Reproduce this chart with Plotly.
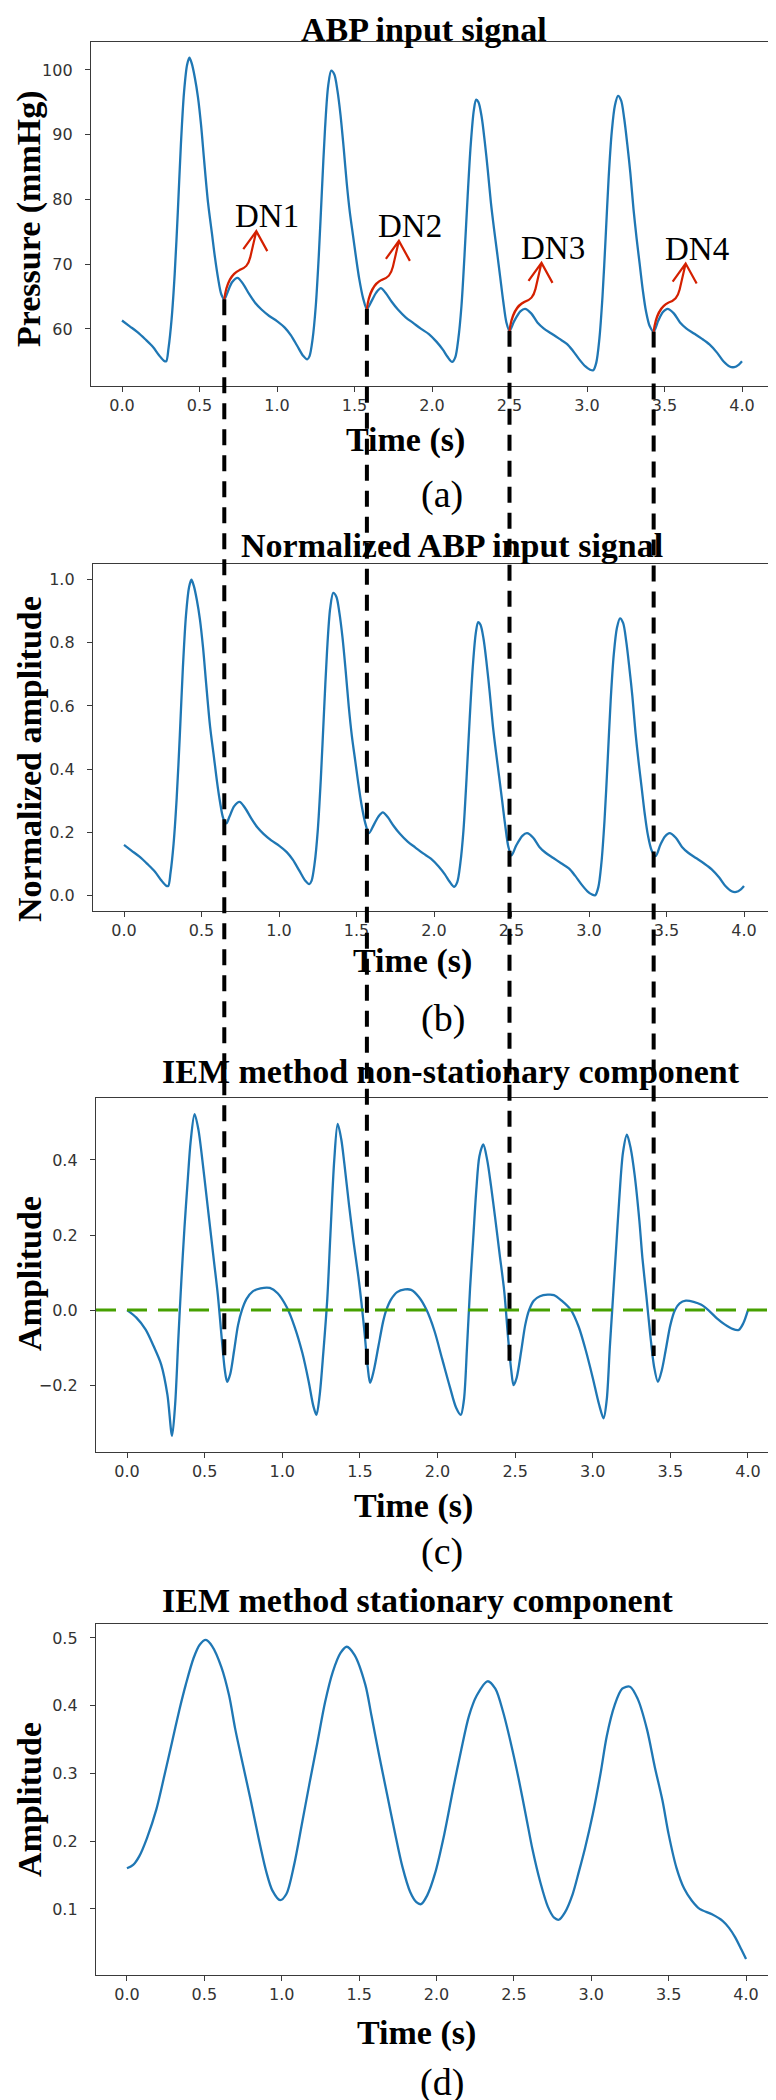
import plotly.graph_objects as go

# ------------------------------------------------------------------ data
t_abp = [0.00, 0.05, 0.10, 0.15, 0.20, 0.24, 0.27, 0.285, 0.30, 0.32, 0.34, 0.36, 0.38, 0.40, 0.42, 0.435,
         0.45, 0.47, 0.49, 0.51, 0.53, 0.555, 0.58, 0.60, 0.62, 0.64, 0.66, 0.68, 0.71, 0.745, 0.78, 0.82,
         0.86, 0.90, 0.95, 1.00, 1.05, 1.09, 1.13, 1.17, 1.195, 1.21, 1.23, 1.25, 1.27, 1.29, 1.31, 1.33,
         1.35, 1.37, 1.39, 1.41, 1.43, 1.45, 1.47, 1.49, 1.51, 1.53, 1.555, 1.58, 1.61, 1.64, 1.67, 1.70,
         1.74, 1.78, 1.83, 1.88, 1.93, 1.98, 2.03, 2.07, 2.10, 2.13, 2.15, 2.17, 2.19, 2.21, 2.23, 2.25,
         2.27, 2.285, 2.30, 2.32, 2.34, 2.36, 2.38, 2.40, 2.42, 2.44, 2.46, 2.48, 2.50, 2.53, 2.57, 2.60,
         2.64, 2.68, 2.72, 2.77, 2.82, 2.87, 2.91, 2.95, 2.99, 3.02, 3.04, 3.06, 3.08, 3.10, 3.12, 3.14,
         3.16, 3.18, 3.20, 3.22, 3.24, 3.26, 3.28, 3.30, 3.32, 3.34, 3.36, 3.38, 3.405, 3.43, 3.46, 3.49,
         3.52, 3.56, 3.60, 3.64, 3.69, 3.74, 3.79, 3.84, 3.88, 3.92, 3.95, 3.98, 4.00]
abp = [61.3, 60.4, 59.5, 58.4, 57.2, 55.9, 55.1, 55.0, 57.0, 61.5, 68.5, 78.0, 88.5, 96.5, 100.8, 101.9,
       101.0, 98.8, 95.8, 91.5, 86.0, 79.5, 74.8, 71.0, 67.8, 65.4, 64.6, 65.6, 67.2, 67.9, 67.0, 65.4,
       64.0, 63.0, 62.0, 61.2, 60.2, 59.0, 57.4, 55.8, 55.3, 55.8, 58.5, 63.5, 71.5, 81.5, 91.0, 97.5,
       99.9, 99.3, 96.8, 93.0, 88.0, 82.5, 78.0, 74.5, 71.0, 67.8, 64.8, 63.1, 64.3, 65.6, 66.3, 65.6,
       64.2, 63.0, 61.8, 60.9, 60.0, 59.2, 58.0, 56.8, 55.7, 54.9, 55.6, 58.5, 63.5, 71.5, 80.5, 88.5,
       93.8, 95.4, 95.0, 92.8, 89.0, 84.5, 79.5, 75.5, 71.8, 68.0, 64.2, 61.0, 59.7, 61.2, 62.7, 63.1,
       62.4, 61.0, 60.1, 59.3, 58.5, 57.7, 56.6, 55.3, 54.2, 53.7, 53.6, 54.8, 58.5, 65.0, 74.0, 83.5,
       90.5, 94.5, 96.0, 95.3, 92.5, 88.5, 84.0, 78.5, 74.0, 70.0, 66.0, 62.8, 60.4, 59.6, 61.3, 62.6,
       63.1, 62.4, 61.0, 60.1, 59.3, 58.5, 57.6, 56.3, 55.0, 54.2, 54.1, 54.5, 55.0]

t_nonstat = [0.00, 0.06, 0.12, 0.17, 0.22, 0.26, 0.29, 0.31, 0.33, 0.35, 0.37, 0.39, 0.41, 0.435, 0.46,
             0.485, 0.51, 0.535, 0.56, 0.585, 0.61, 0.63, 0.645, 0.665, 0.69, 0.715, 0.74, 0.77, 0.81,
             0.86, 0.92, 0.97, 1.03, 1.08, 1.13, 1.17, 1.20, 1.22, 1.24, 1.265, 1.29, 1.31, 1.335, 1.357,
             1.38, 1.40, 1.43, 1.46, 1.49, 1.51, 1.53, 1.55, 1.566, 1.59, 1.62, 1.65, 1.67, 1.70, 1.74,
             1.79, 1.83, 1.88, 1.93, 1.98, 2.03, 2.08, 2.12, 2.15, 2.17, 2.19, 2.21, 2.23, 2.25, 2.27,
             2.295, 2.32, 2.345, 2.37, 2.40, 2.43, 2.455, 2.475, 2.49, 2.51, 2.54, 2.565, 2.59, 2.62,
             2.66, 2.71, 2.75, 2.80, 2.86, 2.91, 2.955, 3.00, 3.04, 3.07, 3.09, 3.11, 3.13, 3.15, 3.17,
             3.195, 3.22, 3.245, 3.27, 3.30, 3.32, 3.345, 3.37, 3.395, 3.42, 3.445, 3.47, 3.50, 3.53,
             3.56, 3.60, 3.65, 3.70, 3.75, 3.80, 3.85, 3.90, 3.94, 3.97, 4.00]
nonstat = [0.000, -0.020, -0.052, -0.095, -0.145, -0.225, -0.335, -0.250, -0.080, 0.080, 0.220, 0.340,
           0.450, 0.522, 0.480, 0.400, 0.310, 0.220, 0.130, 0.040, -0.075, -0.160, -0.191, -0.170,
           -0.107, -0.040, 0.000, 0.030, 0.050, 0.058, 0.059, 0.045, 0.007, -0.045, -0.115, -0.190,
           -0.255, -0.279, -0.230, -0.110, 0.030, 0.200, 0.400, 0.496, 0.455, 0.390, 0.280, 0.180,
           0.090, 0.020, -0.060, -0.150, -0.194, -0.160, -0.095, -0.030, 0.000, 0.028, 0.048, 0.055,
           0.054, 0.035, 0.000, -0.055, -0.130, -0.205, -0.260, -0.279, -0.240, -0.100, 0.060, 0.190,
           0.320, 0.410, 0.441, 0.400, 0.330, 0.250, 0.150, 0.050, -0.075, -0.160, -0.200, -0.180,
           -0.107, -0.040, 0.000, 0.025, 0.037, 0.041, 0.040, 0.025, 0.000, -0.045, -0.107, -0.180,
           -0.250, -0.288, -0.240, -0.100, 0.030, 0.160, 0.290, 0.420, 0.467, 0.430, 0.360, 0.240,
           0.139, 0.040, -0.063, -0.150, -0.191, -0.160, -0.107, -0.040, 0.000, 0.018, 0.025, 0.022,
           0.014, -0.002, -0.022, -0.038, -0.050, -0.053, -0.035, 0.000]

t_stat = [0.00, 0.04, 0.08, 0.13, 0.19, 0.24, 0.29, 0.34, 0.38, 0.43, 0.47, 0.51, 0.55, 0.61, 0.66, 0.70,
          0.75, 0.80, 0.85, 0.90, 0.94, 0.99, 1.03, 1.08, 1.13, 1.18, 1.23, 1.28, 1.33, 1.38, 1.42, 1.47,
          1.54, 1.58, 1.63, 1.68, 1.73, 1.78, 1.83, 1.87, 1.90, 1.94, 1.99, 2.05, 2.11, 2.16, 2.21, 2.26,
          2.33, 2.38, 2.43, 2.48, 2.53, 2.58, 2.62, 2.67, 2.72, 2.76, 2.79, 2.83, 2.88, 2.92, 2.96, 3.01,
          3.06, 3.10, 3.15, 3.20, 3.25, 3.30, 3.36, 3.41, 3.46, 3.50, 3.55, 3.60, 3.65, 3.70, 3.78, 3.85,
          3.89, 3.93, 3.97, 4.00]
stat = [0.160, 0.165, 0.178, 0.205, 0.247, 0.295, 0.345, 0.395, 0.431, 0.470, 0.490, 0.497, 0.488, 0.457,
        0.415, 0.365, 0.312, 0.260, 0.205, 0.155, 0.127, 0.113, 0.122, 0.165, 0.225, 0.286, 0.345, 0.405,
        0.450, 0.478, 0.487, 0.475, 0.431, 0.385, 0.326, 0.270, 0.214, 0.162, 0.125, 0.110, 0.107, 0.120,
        0.152, 0.210, 0.280, 0.335, 0.385, 0.415, 0.436, 0.425, 0.391, 0.345, 0.293, 0.235, 0.188, 0.140,
        0.103, 0.087, 0.084, 0.095, 0.122, 0.155, 0.190, 0.240, 0.300, 0.355, 0.400, 0.425, 0.428, 0.410,
        0.365, 0.310, 0.260, 0.210, 0.161, 0.130, 0.112, 0.100, 0.092, 0.082, 0.072, 0.058, 0.040, 0.026]

dn_labels = ["DN1", "DN2", "DN3", "DN4"]
dn_times = [0.66, 1.58, 2.50, 3.43]
dn_abp = [64.6, 63.1, 59.7, 59.6]
dn_nonstat_end = [-0.145, -0.148, -0.160, -0.122]
zero_level = 0.0

x_ticks = [0.0, 0.5, 1.0, 1.5, 2.0, 2.5, 3.0, 3.5, 4.0]
a_ticks = [60, 70, 80, 90, 100]
b_ticks = [0.0, 0.2, 0.4, 0.6, 0.8, 1.0]
c_ticks = [-0.2, 0.0, 0.2, 0.4]
d_ticks = [0.1, 0.2, 0.3, 0.4, 0.5]

titles = ["ABP input signal", "Normalized ABP input signal",
          "IEM method non-stationary component", "IEM method stationary component"]
y_titles = ["Pressure (mmHg)", "Normalized amplitude", "Amplitude", "Amplitude"]
x_title = "Time (s)"
panel_tags = ["(a)", "(b)", "(c)", "(d)"]

# normalized signal (definition of panel b)
abp_min, abp_max = min(abp), max(abp)
abp_norm = [(v - abp_min) / (abp_max - abp_min) for v in abp]

# ------------------------------------------------------------------ layout helpers
W, H = 776, 2100
SERIF = "Liberation Serif, Times New Roman, serif"
SANS = "DejaVu Sans, sans-serif"
BLUE = "#1f77b4"

# plot boxes in pixels: (left, right, top, bottom)
boxes = [(83, 765, 34, 378), (85, 767, 556, 903), (88, 771, 1090, 1444), (88, 769, 1616, 1967)]
title_pos = [(416, 21), (444, 537), (443, 1063), (410, 1592)]
ytitle_pos = [(21, 211), (21, 751), (21, 1266), (21, 1792)]
xtitle_pos = [(398, 432), (404, 953), (405, 1498), (408, 2025)]
tag_pos = [(434, 486), (435, 1010), (434, 1543), (434, 2074)]


def padded(vals, frac=0.05):
    lo, hi = min(vals), max(vals)
    m = (hi - lo) * frac
    return [lo - m, hi + m]


def px(x):
    return x / W


def py(y):
    return 1 - y / H


series = [(t_abp, abp), (t_abp, abp_norm), (t_nonstat, nonstat), (t_stat, stat)]
yticks = [a_ticks, b_ticks, c_ticks, d_ticks]
ytickfmt = ["{:d}", "{:.1f}", "{:.1f}", "{:.1f}"]
xrng = padded(t_abp)

fig = go.Figure()
layout = dict(width=W, height=H, margin=dict(l=0, r=0, t=0, b=0), autosize=False,
              plot_bgcolor="white", paper_bgcolor="white", showlegend=False, hovermode=False)

yranges = []
ydoms = []
for i, ((tx, ty), box) in enumerate(zip(series, boxes)):
    n = "" if i == 0 else str(i + 1)
    l, r, t, b = box
    yr = padded(ty)
    yranges.append(yr)
    ydom = [py(b), py(t)]
    ydoms.append(ydom)
    fig.add_trace(go.Scatter(x=tx, y=ty, mode="lines", xaxis="x" + n, yaxis="y" + n,
                             line=dict(color=BLUE, width=2.3, shape="spline", smoothing=0.85)))
    common = dict(showline=True, mirror=True, linecolor="#3a3a3a", linewidth=1.3, ticks="outside",
                  ticklen=5, tickwidth=1.2, tickcolor="#3a3a3a", showgrid=False, zeroline=False,
                  tickfont=dict(family=SANS, size=16, color="#333333"))
    layout["xaxis" + n] = dict(domain=[px(l), px(r)], range=xrng, anchor="y" + n,
                               tickvals=x_ticks, ticktext=["{:.1f}".format(v) for v in x_ticks], **common)
    fmt = ytickfmt[i]
    layout["yaxis" + n] = dict(domain=ydom, range=yr, anchor="x" + n, tickvals=yticks[i],
                               ticktext=[(fmt.format(int(v)) if fmt == "{:d}" else fmt.format(v)).replace("-", "\u2212")
                                         for v in yticks[i]],
                               ticklabelstandoff=9, **common)

fig.update_layout(**layout)


def to_paper(v, rng, dom):
    return dom[0] + (v - rng[0]) / (rng[1] - rng[0]) * (dom[1] - dom[0])


shapes = []
# green zero reference line in panel (c)
shapes.append(dict(type="line", xref="x3 domain", yref="y3", x0=0, x1=1, y0=zero_level, y1=zero_level,
                   line=dict(color="#46a000", width=3, dash="20px,11px"), layer="above"))
# black dashed connectors from the dicrotic notches (a) down to panel (c)
for tt, va, vc in zip(dn_times, dn_abp, dn_nonstat_end):
    shapes.append(dict(type="line", xref="x", yref="paper", x0=tt, x1=tt,
                       y0=to_paper(va, yranges[0], ydoms[0]), y1=to_paper(vc, yranges[2], ydoms[2]),
                       line=dict(color="black", width=4, dash="16px,10px"), layer="above"))
# red wavy arrows at each notch (pixel-sized path anchored on the notch)
ARROW = "M0,0 C2,16 8,26 15,29 C21,31 24,34 26,42 L32,68 M19,50 L32,68 L43,48"
for tt, va in zip(dn_times, dn_abp):
    shapes.append(dict(type="path", xref="x", yref="y", xsizemode="pixel", ysizemode="pixel",
                       xanchor=tt, yanchor=va, path=ARROW,
                       line=dict(color="#d42000", width=2.2), fillcolor="rgba(0,0,0,0)", layer="above"))

ann = []
for lab, tt, va in zip(dn_labels, dn_times, dn_abp):
    ann.append(dict(text=lab, xref="x", yref="y", x=tt, y=va, xshift=43, yshift=83, showarrow=False,
                    xanchor="center", yanchor="middle", font=dict(family=SERIF, size=33, color="black")))
for i in range(4):
    x, y = title_pos[i]
    ann.append(dict(text="<b>" + titles[i] + "</b>", xref="paper", yref="paper", x=px(x), y=py(y),
                    showarrow=False, xanchor="center", yanchor="middle",
                    font=dict(family=SERIF, size=34, color="black")))
    x, y = ytitle_pos[i]
    ann.append(dict(text="<b>" + y_titles[i] + "</b>", xref="paper", yref="paper", x=px(x), y=py(y),
                    showarrow=False, xanchor="center", yanchor="middle", textangle=-90,
                    font=dict(family=SERIF, size=34, color="black")))
    x, y = xtitle_pos[i]
    ann.append(dict(text="<b>" + x_title + "</b>", xref="paper", yref="paper", x=px(x), y=py(y),
                    showarrow=False, xanchor="center", yanchor="middle",
                    font=dict(family=SERIF, size=34, color="black")))
    x, y = tag_pos[i]
    ann.append(dict(text=panel_tags[i], xref="paper", yref="paper", x=px(x), y=py(y),
                    showarrow=False, xanchor="center", yanchor="middle",
                    font=dict(family=SERIF, size=38, color="black")))

fig.update_layout(shapes=shapes, annotations=ann)
fig.write_html("out.html")
